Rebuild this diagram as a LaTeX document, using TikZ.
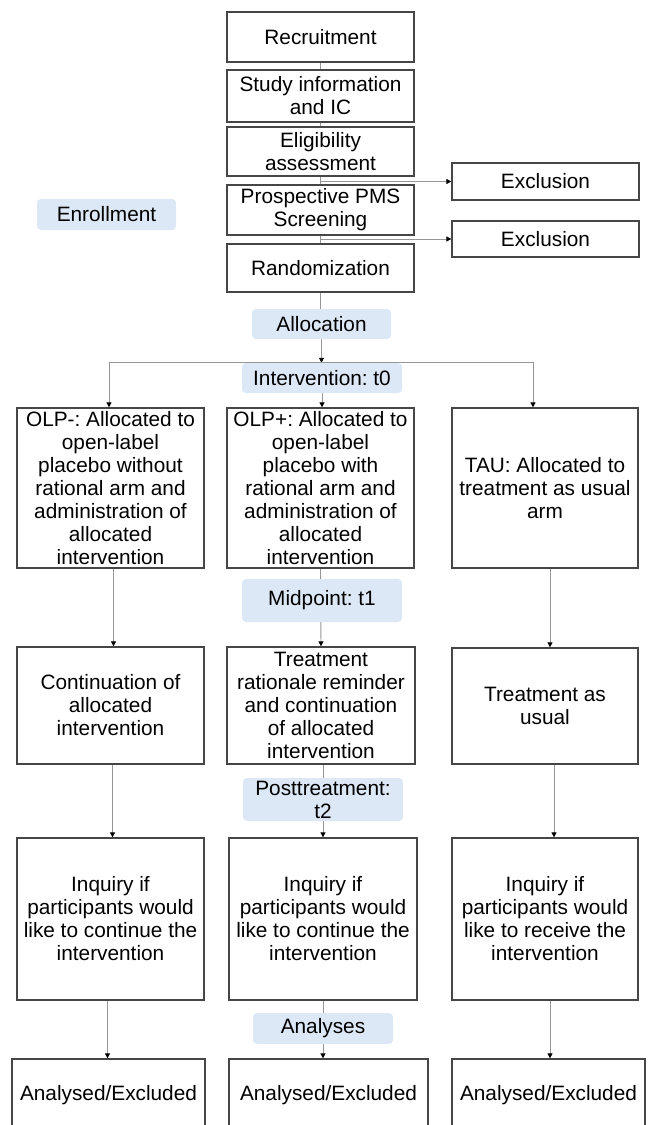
\documentclass[tikz,border=0pt]{standalone}
\usepackage{fontspec}
\setmainfont{Liberation Sans}
\frenchspacing
\usetikzlibrary{arrows.meta,backgrounds,calc}
\definecolor{lblue}{RGB}{220,232,245}
\definecolor{bordc}{RGB}{70,70,70}
\definecolor{linec}{RGB}{150,150,150}
\tikzset{
  flowbox/.style={draw=bordc,line width=1.3pt,fill=white,inner sep=0pt,align=center,
    font=\fontsize{20.8}{23}\selectfont},
  phase/.style={fill=lblue,rounded corners=4pt,inner sep=0pt,align=center,
    font=\fontsize{20.8}{23}\selectfont},
  conn/.style={draw=linec,line width=0.9pt},
  arr/.style={conn,-{Triangle[width=5pt,length=5pt,color=black]}}
}
\begin{document}
\begin{tikzpicture}[x=1pt,y=-1pt]
\clip (0,0) rectangle (648,1125);
% top column
\node[flowbox,minimum width=187,minimum height=50] (rec) at (320.5,37) {Recruitment};
\node[flowbox,minimum width=187,minimum height=52] (sti) at (320.5,96) {Study information\\and IC};
\node[flowbox,minimum width=187,minimum height=49] (eli) at (320.5,151.5) {Eligibility\\assessment};
\node[flowbox,minimum width=187,minimum height=50] (pms) at (320.5,210) {Prospective PMS\\Screening};
\node[flowbox,minimum width=187,minimum height=48] (ran) at (320.5,268) {Randomization};
\node[flowbox,minimum width=187,minimum height=37] (ex1) at (545.5,181.5) {Exclusion};
\node[flowbox,minimum width=187,minimum height=36] (ex2) at (545.5,239) {Exclusion};
\node[phase,minimum width=139,minimum height=31] (enr) at (106.5,214.5) {Enrollment};
\node[phase,minimum width=139,minimum height=30] (alo) at (321.5,324) {Allocation};
\node[phase,minimum width=160,minimum height=30] (int) at (322,378) {Intervention: t0};
% arms row 1
\node[flowbox,minimum width=187,minimum height=160] (a1) at (110.5,488)
  {OLP-: Allocated to\\open-label\\placebo without\\rational arm and\\administration of\\allocated\\intervention};
\node[flowbox,minimum width=187,minimum height=160] (a2) at (320.5,488)
  {OLP+: Allocated to\\open-label\\placebo with\\rational arm and\\administration of\\allocated\\intervention};
\node[flowbox,minimum width=186,minimum height=160] (a3) at (545,488)
  {TAU: Allocated to\\treatment as usual\\arm};
\node[phase,minimum width=160,minimum height=43] (mid) at (322,600.5) {Midpoint: t1};
% row 2
\node[flowbox,minimum width=187,minimum height=117] (b1) at (110.5,705.5)
  {Continuation of\\allocated\\intervention};
\node[flowbox,minimum width=188,minimum height=117] (b2) at (321,705.5)
  {Treatment\\rationale reminder\\and continuation\\of allocated\\intervention};
\node[flowbox,minimum width=186,minimum height=116] (b3) at (545,706)
  {Treatment as\\usual};
\node[phase,minimum width=160,minimum height=43] (post) at (323,799.5) {Posttreatment:\\t2};
% row 3
\node[flowbox,minimum width=187,minimum height=162] (c1) at (110.5,919)
  {Inquiry if\\participants would\\like to continue the\\intervention};
\node[flowbox,minimum width=188,minimum height=162] (c2) at (323,919)
  {Inquiry if\\participants would\\like to continue the\\intervention};
\node[flowbox,minimum width=186,minimum height=162] (c3) at (545,919)
  {Inquiry if\\participants would\\like to receive the\\intervention};
\node[phase,minimum width=140,minimum height=31] (ana) at (323,1028.5) {Analyses};
% row 4
\node[flowbox,minimum width=193,minimum height=72] (d1) at (108.5,1095) {Analysed/Excluded};
\node[flowbox,minimum width=199,minimum height=72] (d2) at (328.5,1095) {Analysed/Excluded};
\node[flowbox,minimum width=193,minimum height=72] (d3) at (548.5,1095) {Analysed/Excluded};
% connectors
\begin{scope}[on background layer]
\fill[white] (0,0) rectangle (648,1125);
\draw[conn] (rec.south) -- (sti.north);
\draw[conn] (sti.south) -- (eli.north);
\draw[conn] (eli.south) -- (pms.north);
\draw[conn] (pms.south) -- (ran.north);
\draw[arr] (eli.south |- ex1.west) -- (ex1.west);
\draw[arr] (pms.south |- ex2.west) -- (ex2.west);
\draw[conn] (ran.south) -- (ran.south |- alo.north);
\draw[arr] (alo.south) -- (alo.south |- int.north);
\draw[arr] (int.south) -- (int.south |- a2.north);
\draw[arr] (int.north) -| ([xshift=-1.5pt]a1.north);
\draw[arr] (int.north) -| ([xshift=-12pt]a3.north);
\draw[arr] ([xshift=3pt]a1.south) -- ([xshift=3pt]b1.north);
\draw[arr] (a2.south) -- (b2.north);
\draw[arr] ([xshift=5pt,yshift=5pt]a3.south) -- ([xshift=5pt]b3.north);
\draw[arr] ([xshift=2pt]b1.south) -- ([xshift=2pt]c1.north);
\draw[arr] (b2.south -| post.north) -- (c2.north);
\draw[arr] ([xshift=9pt]b3.south) -- ([xshift=9pt]c3.north);
\draw[arr] ([xshift=-3pt]c1.south) -- ([xshift=-3pt]c1.south |- d1.north);
\draw[arr] (c2.south) -- (c2.south |- d2.north);
\draw[arr] ([xshift=5pt]c3.south) -- ([xshift=5pt]c3.south |- d3.north);
\end{scope}
\end{tikzpicture}
\end{document}
